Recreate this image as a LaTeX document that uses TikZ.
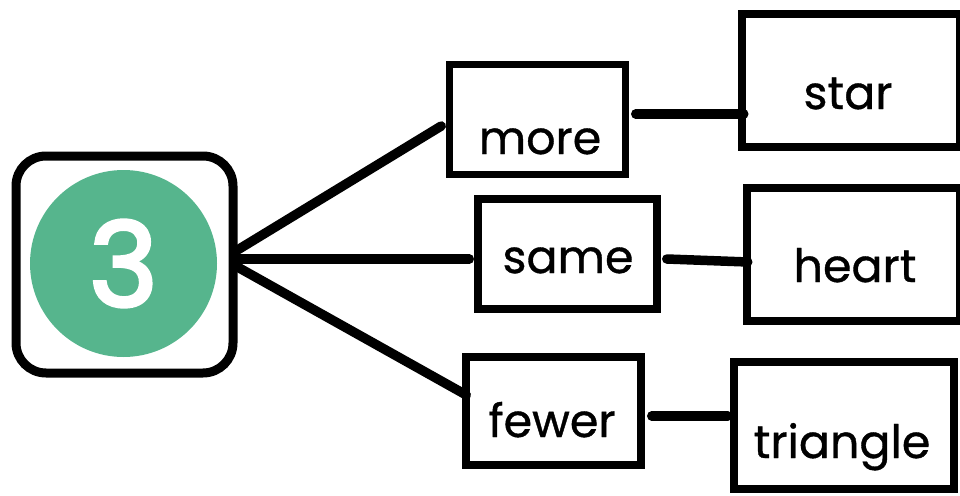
\documentclass[tikz,border=0pt]{standalone}
\usepackage{fontspec}
\setmainfont[FakeBold=0.8]{Poppins}
\newfontfamily\numfont[FakeBold=3]{Poppins}
\usepackage{tikz}
\usetikzlibrary{positioning,calc}
\definecolor{numgreen}{RGB}{86,181,141}
\tikzstyle{numbox}=[draw=black, line width=9pt, rounded corners=30pt, minimum width=217pt, minimum height=217pt, inner sep=0pt]
\tikzstyle{numdisc}=[circle, fill=numgreen, minimum size=187pt, inner sep=0pt, text=white, font=\numfont\fontsize{117}{120}\selectfont]
\tikzstyle{catbox}=[draw=black, line width=7.5pt, inner sep=0pt]
\tikzstyle{shapebox}=[draw=black, line width=8.5pt, inner sep=0pt]
\tikzstyle{lab}=[font=\fontsize{46}{50}\selectfont, anchor=base, inner sep=0pt]
\tikzstyle{link}=[line width=9.5pt, line cap=round]

\begin{document}
\begin{tikzpicture}[x=1pt, y=-1pt]
      \useasboundingbox (0,0) rectangle (960,495);
      % the number
      \node at (124.5,264.5) [numbox] (num) {};
      \node at (123.5,263.5) [numdisc] (three) {3};
      % comparison words
      \node at (537.5,119.5) [catbox, minimum width=176pt, minimum height=110pt] (more) {};
      \node at (567.5,254) [catbox, minimum width=179pt, minimum height=110pt] (same) {};
      \node at (553.5,411) [catbox, minimum width=175pt, minimum height=108pt] (fewer) {};
      \node at (540,154) [lab] (tmore) {more};
      \node at (568,273) [lab] (tsame) {same};
      \node at (552,437) [lab] (tfewer) {fewer};
      % shapes
      \node at (851,80.5) [shapebox, minimum width=218pt, minimum height=133pt] (star) {};
      \node at (853.5,254.5) [shapebox, minimum width=213pt, minimum height=133pt] (heart) {};
      \node at (844,425.5) [shapebox, minimum width=220pt, minimum height=127pt] (triangle) {};
      \node at (848,109) [lab] (tstar) {star};
      \node at (855,282) [lab] (theart) {heart};
      \node at (842,458) [lab] (ttriangle) {triangle};
      %
      \draw[link] ([yshift=14.5pt]num.east) -- ([xshift=-4.5pt,yshift=-6.5pt]more.west);
      \draw[link] ([yshift=5.5pt]num.east) -- ([xshift=-5pt,yshift=-5pt]same.west);
      \draw[link] ([yshift=-2.5pt]num.east) -- ([xshift=4pt,yshift=16pt]fewer.west);
      %
      \draw[link] ([xshift=6.5pt,yshift=5.5pt]more.east) -- ([xshift=6pt,yshift=-33.5pt]star.west);
      \draw[link] ([xshift=6pt,yshift=-5pt]same.east) -- ([xshift=5pt,yshift=-7.5pt]heart.west);
      \draw[link] ([xshift=7pt,yshift=-5pt]fewer.east) -- ([xshift=-2pt,yshift=9.5pt]triangle.west);
      %
\end{tikzpicture}
\end{document}
